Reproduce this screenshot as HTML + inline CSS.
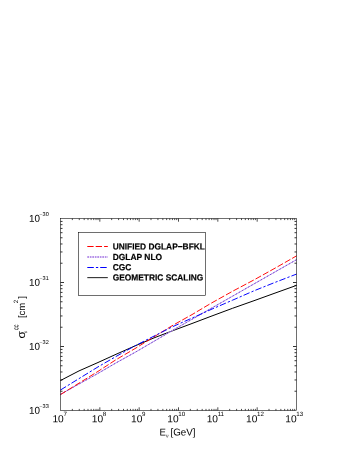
<!DOCTYPE html>
<html><head><meta charset="utf-8"><title>plot</title>
<style>html,body{margin:0;padding:0;background:#fff;}body{width:357px;height:462px;position:relative;overflow:hidden;font-family:"Liberation Sans",sans-serif;}</style>
</head><body>
<svg width="357" height="462" viewBox="0 0 357 462" style="position:absolute;left:0;top:0;will-change:transform">
<rect x="0" y="0" width="357" height="462" fill="#fff"/>
<path d="M72.34 410.50V408.90M72.34 218.50V220.10M79.27 410.50V408.90M79.27 218.50V220.10M84.18 410.50V408.90M84.18 218.50V220.10M87.99 410.50V408.90M87.99 218.50V220.10M91.11 410.50V408.90M91.11 218.50V220.10M93.74 410.50V408.90M93.74 218.50V220.10M96.02 410.50V408.90M96.02 218.50V220.10M98.03 410.50V408.90M98.03 218.50V220.10M99.83 410.50V407.30M99.83 218.50V221.70M111.67 410.50V408.90M111.67 218.50V220.10M118.60 410.50V408.90M118.60 218.50V220.10M123.51 410.50V408.90M123.51 218.50V220.10M127.33 410.50V408.90M127.33 218.50V220.10M130.44 410.50V408.90M130.44 218.50V220.10M133.07 410.50V408.90M133.07 218.50V220.10M135.35 410.50V408.90M135.35 218.50V220.10M137.37 410.50V408.90M137.37 218.50V220.10M139.17 410.50V407.30M139.17 218.50V221.70M151.01 410.50V408.90M151.01 218.50V220.10M157.93 410.50V408.90M157.93 218.50V220.10M162.85 410.50V408.90M162.85 218.50V220.10M166.66 410.50V408.90M166.66 218.50V220.10M169.77 410.50V408.90M169.77 218.50V220.10M172.41 410.50V408.90M172.41 218.50V220.10M174.69 410.50V408.90M174.69 218.50V220.10M176.70 410.50V408.90M176.70 218.50V220.10M178.50 410.50V407.30M178.50 218.50V221.70M190.34 410.50V408.90M190.34 218.50V220.10M197.27 410.50V408.90M197.27 218.50V220.10M202.18 410.50V408.90M202.18 218.50V220.10M205.99 410.50V408.90M205.99 218.50V220.10M209.11 410.50V408.90M209.11 218.50V220.10M211.74 410.50V408.90M211.74 218.50V220.10M214.02 410.50V408.90M214.02 218.50V220.10M216.03 410.50V408.90M216.03 218.50V220.10M217.83 410.50V407.30M217.83 218.50V221.70M229.67 410.50V408.90M229.67 218.50V220.10M236.60 410.50V408.90M236.60 218.50V220.10M241.51 410.50V408.90M241.51 218.50V220.10M245.33 410.50V408.90M245.33 218.50V220.10M248.44 410.50V408.90M248.44 218.50V220.10M251.07 410.50V408.90M251.07 218.50V220.10M253.35 410.50V408.90M253.35 218.50V220.10M255.37 410.50V408.90M255.37 218.50V220.10M257.17 410.50V407.30M257.17 218.50V221.70M269.01 410.50V408.90M269.01 218.50V220.10M275.93 410.50V408.90M275.93 218.50V220.10M280.85 410.50V408.90M280.85 218.50V220.10M284.66 410.50V408.90M284.66 218.50V220.10M287.77 410.50V408.90M287.77 218.50V220.10M290.41 410.50V408.90M290.41 218.50V220.10M292.69 410.50V408.90M292.69 218.50V220.10M294.70 410.50V408.90M294.70 218.50V220.10" stroke="#000" stroke-width="0.7" fill="none"/>
<path d="M60.50 391.23H62.50M296.50 391.23H294.50M60.50 379.96H62.50M296.50 379.96H294.50M60.50 371.97H62.50M296.50 371.97H294.50M60.50 365.77H62.50M296.50 365.77H294.50M60.50 360.70H62.50M296.50 360.70H294.50M60.50 356.41H62.50M296.50 356.41H294.50M60.50 352.70H62.50M296.50 352.70H294.50M60.50 349.43H62.50M296.50 349.43H294.50M60.50 346.50H64.00M296.50 346.50H293.00M60.50 327.23H62.50M296.50 327.23H294.50M60.50 315.96H62.50M296.50 315.96H294.50M60.50 307.97H62.50M296.50 307.97H294.50M60.50 301.77H62.50M296.50 301.77H294.50M60.50 296.70H62.50M296.50 296.70H294.50M60.50 292.41H62.50M296.50 292.41H294.50M60.50 288.70H62.50M296.50 288.70H294.50M60.50 285.43H62.50M296.50 285.43H294.50M60.50 282.50H64.00M296.50 282.50H293.00M60.50 263.23H62.50M296.50 263.23H294.50M60.50 251.96H62.50M296.50 251.96H294.50M60.50 243.97H62.50M296.50 243.97H294.50M60.50 237.77H62.50M296.50 237.77H294.50M60.50 232.70H62.50M296.50 232.70H294.50M60.50 228.41H62.50M296.50 228.41H294.50M60.50 224.70H62.50M296.50 224.70H294.50M60.50 221.43H62.50M296.50 221.43H294.50" stroke="#000" stroke-width="0.8" fill="none"/>
<g fill="none" stroke-linecap="butt" stroke-linejoin="round">
<path d="M60.50 380.50 L79.00 370.90 L98.00 362.50 L116.00 354.30 L135.00 345.90 L154.00 337.90 L173.00 330.60 L192.00 323.50 L211.00 316.30 L232.50 308.30 L254.00 300.70 L275.00 293.10 L296.50 285.40" stroke="#000" stroke-width="1.0"/>
<path d="M60.50 394.30 L98.00 373.40 L116.00 362.90 L135.00 352.40 L154.00 341.30 L173.00 330.10 L192.00 319.27 L211.00 308.44 L232.50 296.20 L254.00 283.90 L275.00 271.95 L296.50 259.70" stroke="#b9a0ea" stroke-width="1.0"/>
<path d="M60.50 394.30 L98.00 373.40 L116.00 362.90 L135.00 352.40 L154.00 341.30 L173.00 330.10 L192.00 319.27 L211.00 308.44 L232.50 296.20 L254.00 283.90 L275.00 271.95 L296.50 259.70" stroke="#7d45d6" stroke-width="1.0" stroke-dasharray="1.6 2.0"/>
<path d="M60.50 394.60 L98.00 371.40 L116.00 359.70 L135.00 348.60 L154.00 336.80 L173.00 325.20 L192.00 314.60 L211.00 303.30 L232.50 291.30 L254.00 279.90 L275.00 268.20 L296.50 255.90" stroke="#ff0000" stroke-width="0.95" stroke-dasharray="6.3 2.1"/>
<path d="M60.50 390.00 L98.00 366.90 L116.00 356.50 L135.00 345.80 L154.00 336.10 L173.00 326.50 L192.00 318.10 L211.00 309.50 L232.50 300.20 L254.00 290.80 L275.00 282.40 L296.50 274.10" stroke="#0000ff" stroke-width="0.98" stroke-dasharray="6.5 2.1 2.3 2.0"/>
</g>
<rect x="60.5" y="218.5" width="236.0" height="192.0" fill="none" stroke="#000" stroke-width="0.57"/>
<rect x="78.5" y="232.5" width="127" height="63" fill="#fff" stroke="#000" stroke-width="0.57"/>
<g fill="none">
<path d="M87.3 246.5H107.8" stroke="#ff0000" stroke-width="1.05" stroke-dasharray="6.3 2.1"/>
<path d="M87.3 257.0H107.8" stroke="#a070e2" stroke-width="1.5" stroke-dasharray="1.7 0.8"/>
<path d="M87.3 267.5H107.8" stroke="#0000ff" stroke-width="1.05" stroke-dasharray="6.5 2.1 2.3 2.0"/>
<path d="M87.3 277.65H107.8" stroke="#000" stroke-width="0.9"/>
</g>
<g font-family="Liberation Sans, sans-serif" fill="#000">
<text x="112.70" y="249.45" font-size="8.8" transform="rotate(0.05 112.70 249.45)" textLength="92.20" lengthAdjust="spacingAndGlyphs" font-weight="bold" stroke="#000" stroke-width="0.18">UNIFIED DGLAP−BFKL</text>
<text x="112.70" y="259.90" font-size="8.8" transform="rotate(0.05 112.70 259.90)" textLength="49.40" lengthAdjust="spacingAndGlyphs" font-weight="bold" stroke="#000" stroke-width="0.18">DGLAP NLO</text>
<text x="112.70" y="270.20" font-size="8.8" transform="rotate(0.05 112.70 270.20)" textLength="18.70" lengthAdjust="spacingAndGlyphs" font-weight="bold" stroke="#000" stroke-width="0.18">CGC</text>
<text x="112.70" y="280.50" font-size="8.8" transform="rotate(0.05 112.70 280.50)" textLength="90.60" lengthAdjust="spacingAndGlyphs" font-weight="bold" stroke="#000" stroke-width="0.18">GEOMETRIC SCALING</text>
<text x="52.40" y="422.20" font-size="10.2" transform="rotate(0.05 52.40 422.20)">10</text>
<text x="63.40" y="416.10" font-size="6.2" transform="rotate(0.05 63.40 416.10)">7</text>
<text x="91.73" y="422.20" font-size="10.2" transform="rotate(0.05 91.73 422.20)">10</text>
<text x="102.73" y="416.10" font-size="6.2" transform="rotate(0.05 102.73 416.10)">8</text>
<text x="131.07" y="422.20" font-size="10.2" transform="rotate(0.05 131.07 422.20)">10</text>
<text x="142.07" y="416.10" font-size="6.2" transform="rotate(0.05 142.07 416.10)">9</text>
<text x="167.30" y="422.20" font-size="10.2" transform="rotate(0.05 167.30 422.20)">10</text>
<text x="178.30" y="416.10" font-size="6.2" transform="rotate(0.05 178.30 416.10)">10</text>
<text x="206.63" y="422.20" font-size="10.2" transform="rotate(0.05 206.63 422.20)">10</text>
<text x="217.63" y="416.10" font-size="6.2" transform="rotate(0.05 217.63 416.10)">11</text>
<text x="245.97" y="422.20" font-size="10.2" transform="rotate(0.05 245.97 422.20)">10</text>
<text x="256.97" y="416.10" font-size="6.2" transform="rotate(0.05 256.97 416.10)">12</text>
<text x="285.30" y="422.20" font-size="10.2" transform="rotate(0.05 285.30 422.20)">10</text>
<text x="296.30" y="416.10" font-size="6.2" transform="rotate(0.05 296.30 416.10)">13</text>
<text x="29.10" y="413.70" font-size="9.9" transform="rotate(0.05 29.10 413.70)">10</text>
<text x="39.30" y="407.95" font-size="5.6" transform="rotate(0.05 39.30 407.95)">−33</text>
<text x="29.10" y="349.70" font-size="9.9" transform="rotate(0.05 29.10 349.70)">10</text>
<text x="39.30" y="343.95" font-size="5.6" transform="rotate(0.05 39.30 343.95)">−32</text>
<text x="29.10" y="285.70" font-size="9.9" transform="rotate(0.05 29.10 285.70)">10</text>
<text x="39.30" y="279.95" font-size="5.6" transform="rotate(0.05 39.30 279.95)">−31</text>
<text x="29.10" y="221.70" font-size="9.9" transform="rotate(0.05 29.10 221.70)">10</text>
<text x="39.30" y="215.95" font-size="5.6" transform="rotate(0.05 39.30 215.95)">−30</text>
<text x="159.50" y="435.60" font-size="10" transform="rotate(0.05 159.50 435.60)" textLength="6.40" lengthAdjust="spacingAndGlyphs">E</text>
<text x="166.00" y="437.50" font-size="5.0" transform="rotate(0.05 166.00 437.50)">ν</text>
<text x="170.50" y="435.60" font-size="10" transform="rotate(0.05 170.50 435.60)" textLength="25.00" lengthAdjust="spacingAndGlyphs">[GeV]</text>
<text x="0" y="0" font-size="11" transform="translate(24.90 338.50) rotate(-89.95) scale(1.080 1)">σ</text>
<text x="0" y="0" font-size="5.0" transform="translate(27.30 333.20) rotate(-89.95) scale(1.000 1)">ν</text>
<text x="0" y="0" font-size="5.2" transform="translate(18.20 330.00) rotate(-89.95) scale(0.720 1)" stroke="#000" stroke-width="0.20">CC</text>
<text x="0" y="0" font-size="9.6" transform="translate(24.90 318.10) rotate(-89.95) scale(1.000 1)">[cm</text>
<text x="0" y="0" font-size="6.2" transform="translate(18.10 303.30) rotate(-89.95) scale(1.000 1)">2</text>
<text x="0" y="0" font-size="9.6" transform="translate(24.90 298.80) rotate(-89.95) scale(1.000 1)">]</text>
</g>
</svg>
</body></html>
